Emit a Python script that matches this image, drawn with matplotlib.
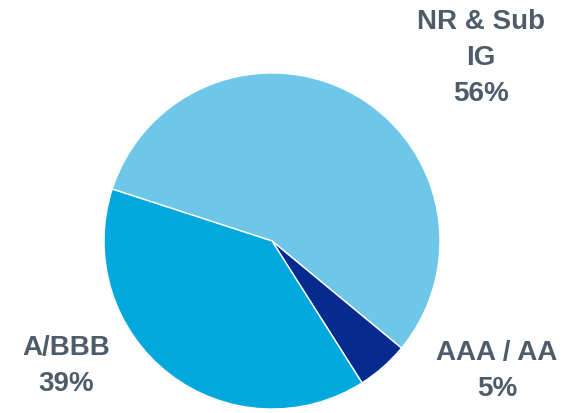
import matplotlib
matplotlib.use("Agg")
import matplotlib.pyplot as plt

labels = ["NR & Sub\nIG\n56%", "AAA / AA\n5%", "A/BBB\n39%"]
shares = [56, 5, 39]
colors = ["#6EC6E8", "#062B8E", "#00A8DE"]
# label anchor points in pixels (x, y from top)
label_px = [(481, 58), (497, 371), (66, 366)]

W, H = 567, 414
fig = plt.figure(figsize=(W / 100, H / 100), dpi=100)
cx, cy, R = 272, 242, 168
ax = fig.add_axes([(cx - R) / W, (H - cy - R) / H, 2 * R / W, 2 * R / H])
ax.pie(shares, colors=colors, startangle=162, counterclock=False, radius=1,
       wedgeprops=dict(edgecolor="white", linewidth=1))
ax.set_xlim(-1, 1); ax.set_ylim(-1, 1)
ax.set_aspect("equal")
ax.axis("off")

for txt, (x, y) in zip(labels, label_px):
    fig.text(x / W, 1 - y / H, txt, ha="center", va="center", fontsize=20,
             fontweight="bold", color="#4E5C6A", family="Liberation Sans", linespacing=1.5)

fig.savefig("out.png", dpi=100)
